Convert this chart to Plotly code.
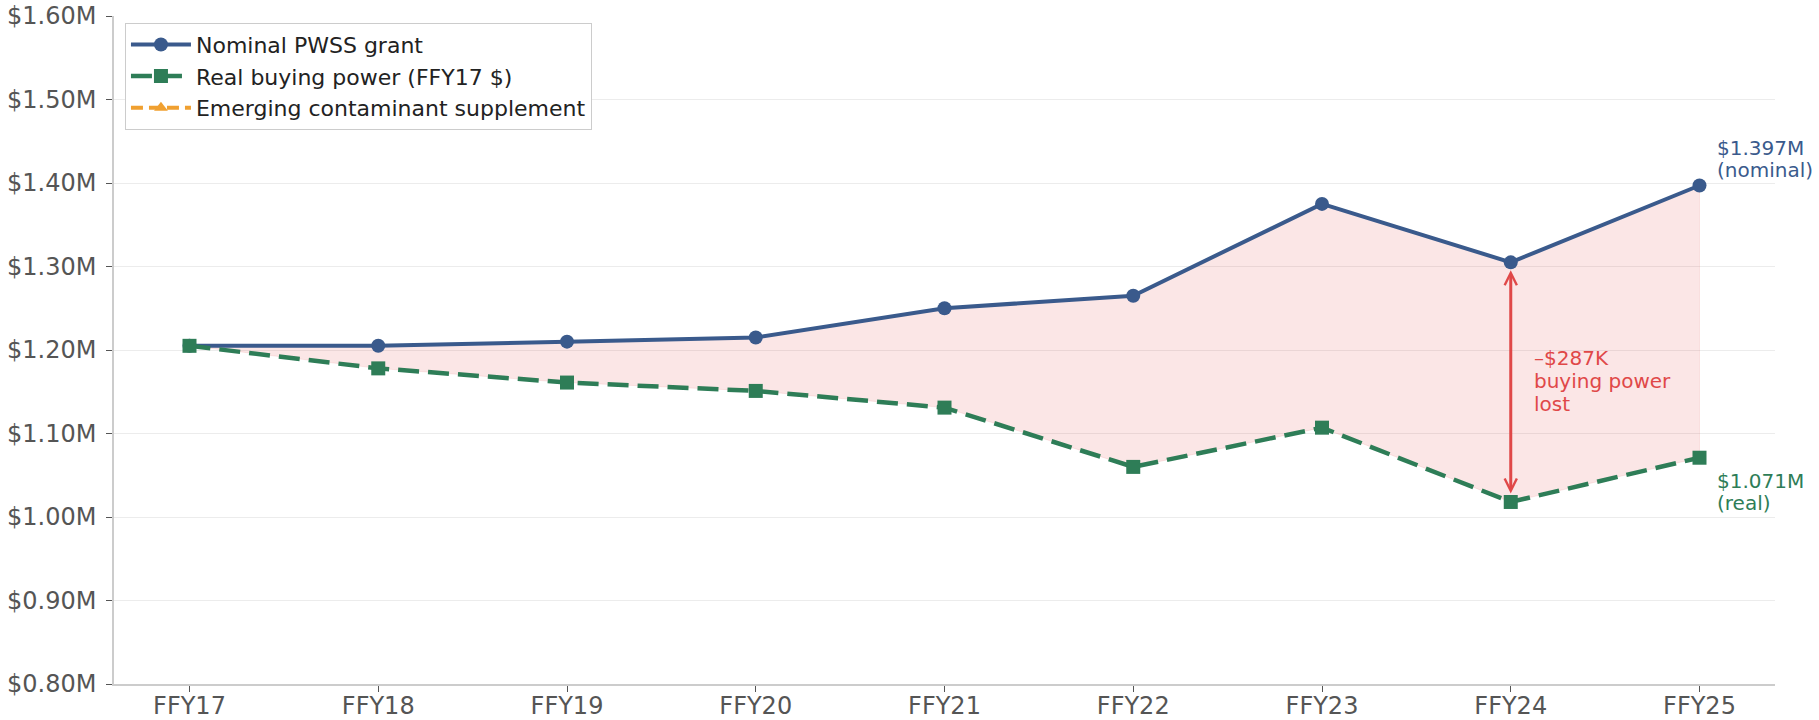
import plotly.graph_objects as go

years = ["FFY17", "FFY18", "FFY19", "FFY20", "FFY21", "FFY22", "FFY23", "FFY24", "FFY25"]
nominal = [1.205, 1.205, 1.210, 1.215, 1.250, 1.265, 1.375, 1.305, 1.397]
real = [1.205, 1.178, 1.161, 1.151, 1.131, 1.060, 1.107, 1.018, 1.071]
supplement = [None] * len(years)
y_ticks = [0.8, 0.9, 1.0, 1.1, 1.2, 1.3, 1.4, 1.5, 1.6]
y_tick_labels = ["$0.80M", "$0.90M", "$1.00M", "$1.10M", "$1.20M", "$1.30M", "$1.40M", "$1.50M", "$1.60M"]

BLUE = "#3a5a8c"
GREEN = "#2e7d57"
ORANGE = "#f0a030"
RED = "#e04848"
FONT = "DejaVu Sans"

fig = go.Figure()

# shaded gap between nominal and real
fig.add_trace(go.Scatter(
    x=years + years[::-1], y=nominal + real[::-1],
    fill="toself", fillcolor="rgba(220,50,50,0.12)",
    line=dict(color="rgba(220,50,50,0.10)", width=1),
    mode="lines", showlegend=False, hoverinfo="skip"))

fig.add_trace(go.Scatter(
    x=years, y=nominal, name="Nominal PWSS grant", mode="lines+markers",
    line=dict(color=BLUE, width=4), marker=dict(symbol="circle", size=14, color=BLUE)))
fig.add_trace(go.Scatter(
    x=years, y=real, name="Real buying power (FFY17 $)", mode="lines+markers",
    line=dict(color=GREEN, width=4.5, dash="21px,9px"),
    marker=dict(symbol="square", size=14, color=GREEN)))
fig.add_trace(go.Scatter(
    x=years, y=supplement, name="Emerging contaminant supplement", mode="lines+markers",
    line=dict(color=ORANGE, width=4, dash="12px,6px"),
    marker=dict(symbol="triangle-up", size=12, color=ORANGE)))

ann = []
# double-headed arrow at FFY24
ann.append(dict(x=years[7], y=nominal[7], ax=years[7], ay=real[7], xref="x", yref="y",
                axref="x", ayref="y", text="", showarrow=True, arrowside="end+start",
                arrowhead=5, arrowsize=0.8, arrowwidth=3, arrowcolor=RED,
                standoff=8, startstandoff=7))
mid = (nominal[7] + real[7]) / 2
for txt, sh in [("–$287K", 24), ("buying power", 1), ("lost", -22)]:
    ann.append(dict(x=years[7], y=mid, xref="x", yref="y", text=txt, showarrow=False,
                    xanchor="left", yanchor="middle", xshift=21, yshift=sh,
                    font=dict(family=FONT, size=20, color=RED)))
for txt, sh in [("$1.397M", 24), ("(nominal)", 2)]:
    ann.append(dict(x=years[8], y=nominal[8], xref="x", yref="y", text=txt, showarrow=False,
                    xanchor="left", yanchor="bottom", xshift=15, yshift=sh,
                    font=dict(family=FONT, size=20, color=BLUE)))
for txt, sh in [("$1.071M", -9), ("(real)", -31)]:
    ann.append(dict(x=years[8], y=real[8], xref="x", yref="y", text=txt, showarrow=False,
                    xanchor="left", yanchor="top", xshift=15, yshift=sh,
                    font=dict(family=FONT, size=20, color=GREEN)))

fig.update_layout(
    width=1819, height=720,
    margin=dict(l=114, r=44, t=16, b=36, autoexpand=False),
    paper_bgcolor="white", plot_bgcolor="white",
    font=dict(family=FONT, size=22, color="#555555"),
    annotations=ann,
    legend=dict(x=0.0066, y=0.99, xanchor="left", yanchor="top",
                bgcolor="white", bordercolor="#cccccc", borderwidth=1,
                font=dict(family=FONT, size=22, color="#222222"),
                itemwidth=60, tracegroupgap=0),
    showlegend=True,
)
fig.update_xaxes(type="category", categoryorder="array", categoryarray=years,
                 range=[-0.4, 8.4], showgrid=False, showline=True, linecolor="#cccccc",
                 linewidth=1.5, ticks="outside", ticklen=6, tickcolor="#555555",
                 tickfont=dict(family=FONT, size=24, color="#555555"), zeroline=False,
                 ticklabelstandoff=-7, automargin=False)
fig.update_yaxes(range=[0.8, 1.6], tickvals=y_ticks, ticktext=y_tick_labels,
                 showgrid=True, gridcolor="#ececec", gridwidth=1, showline=True,
                 linecolor="#cccccc", linewidth=1.5, ticks="outside", ticklen=6,
                 tickcolor="#555555", tickfont=dict(family=FONT, size=24, color="#555555"),
                 zeroline=False, ticklabelstandoff=5, automargin=False)

fig.write_html("out.html", config={"displayModeBar": False},
               post_script="document.body.style.margin='0';document.body.style.overflow='hidden';")
